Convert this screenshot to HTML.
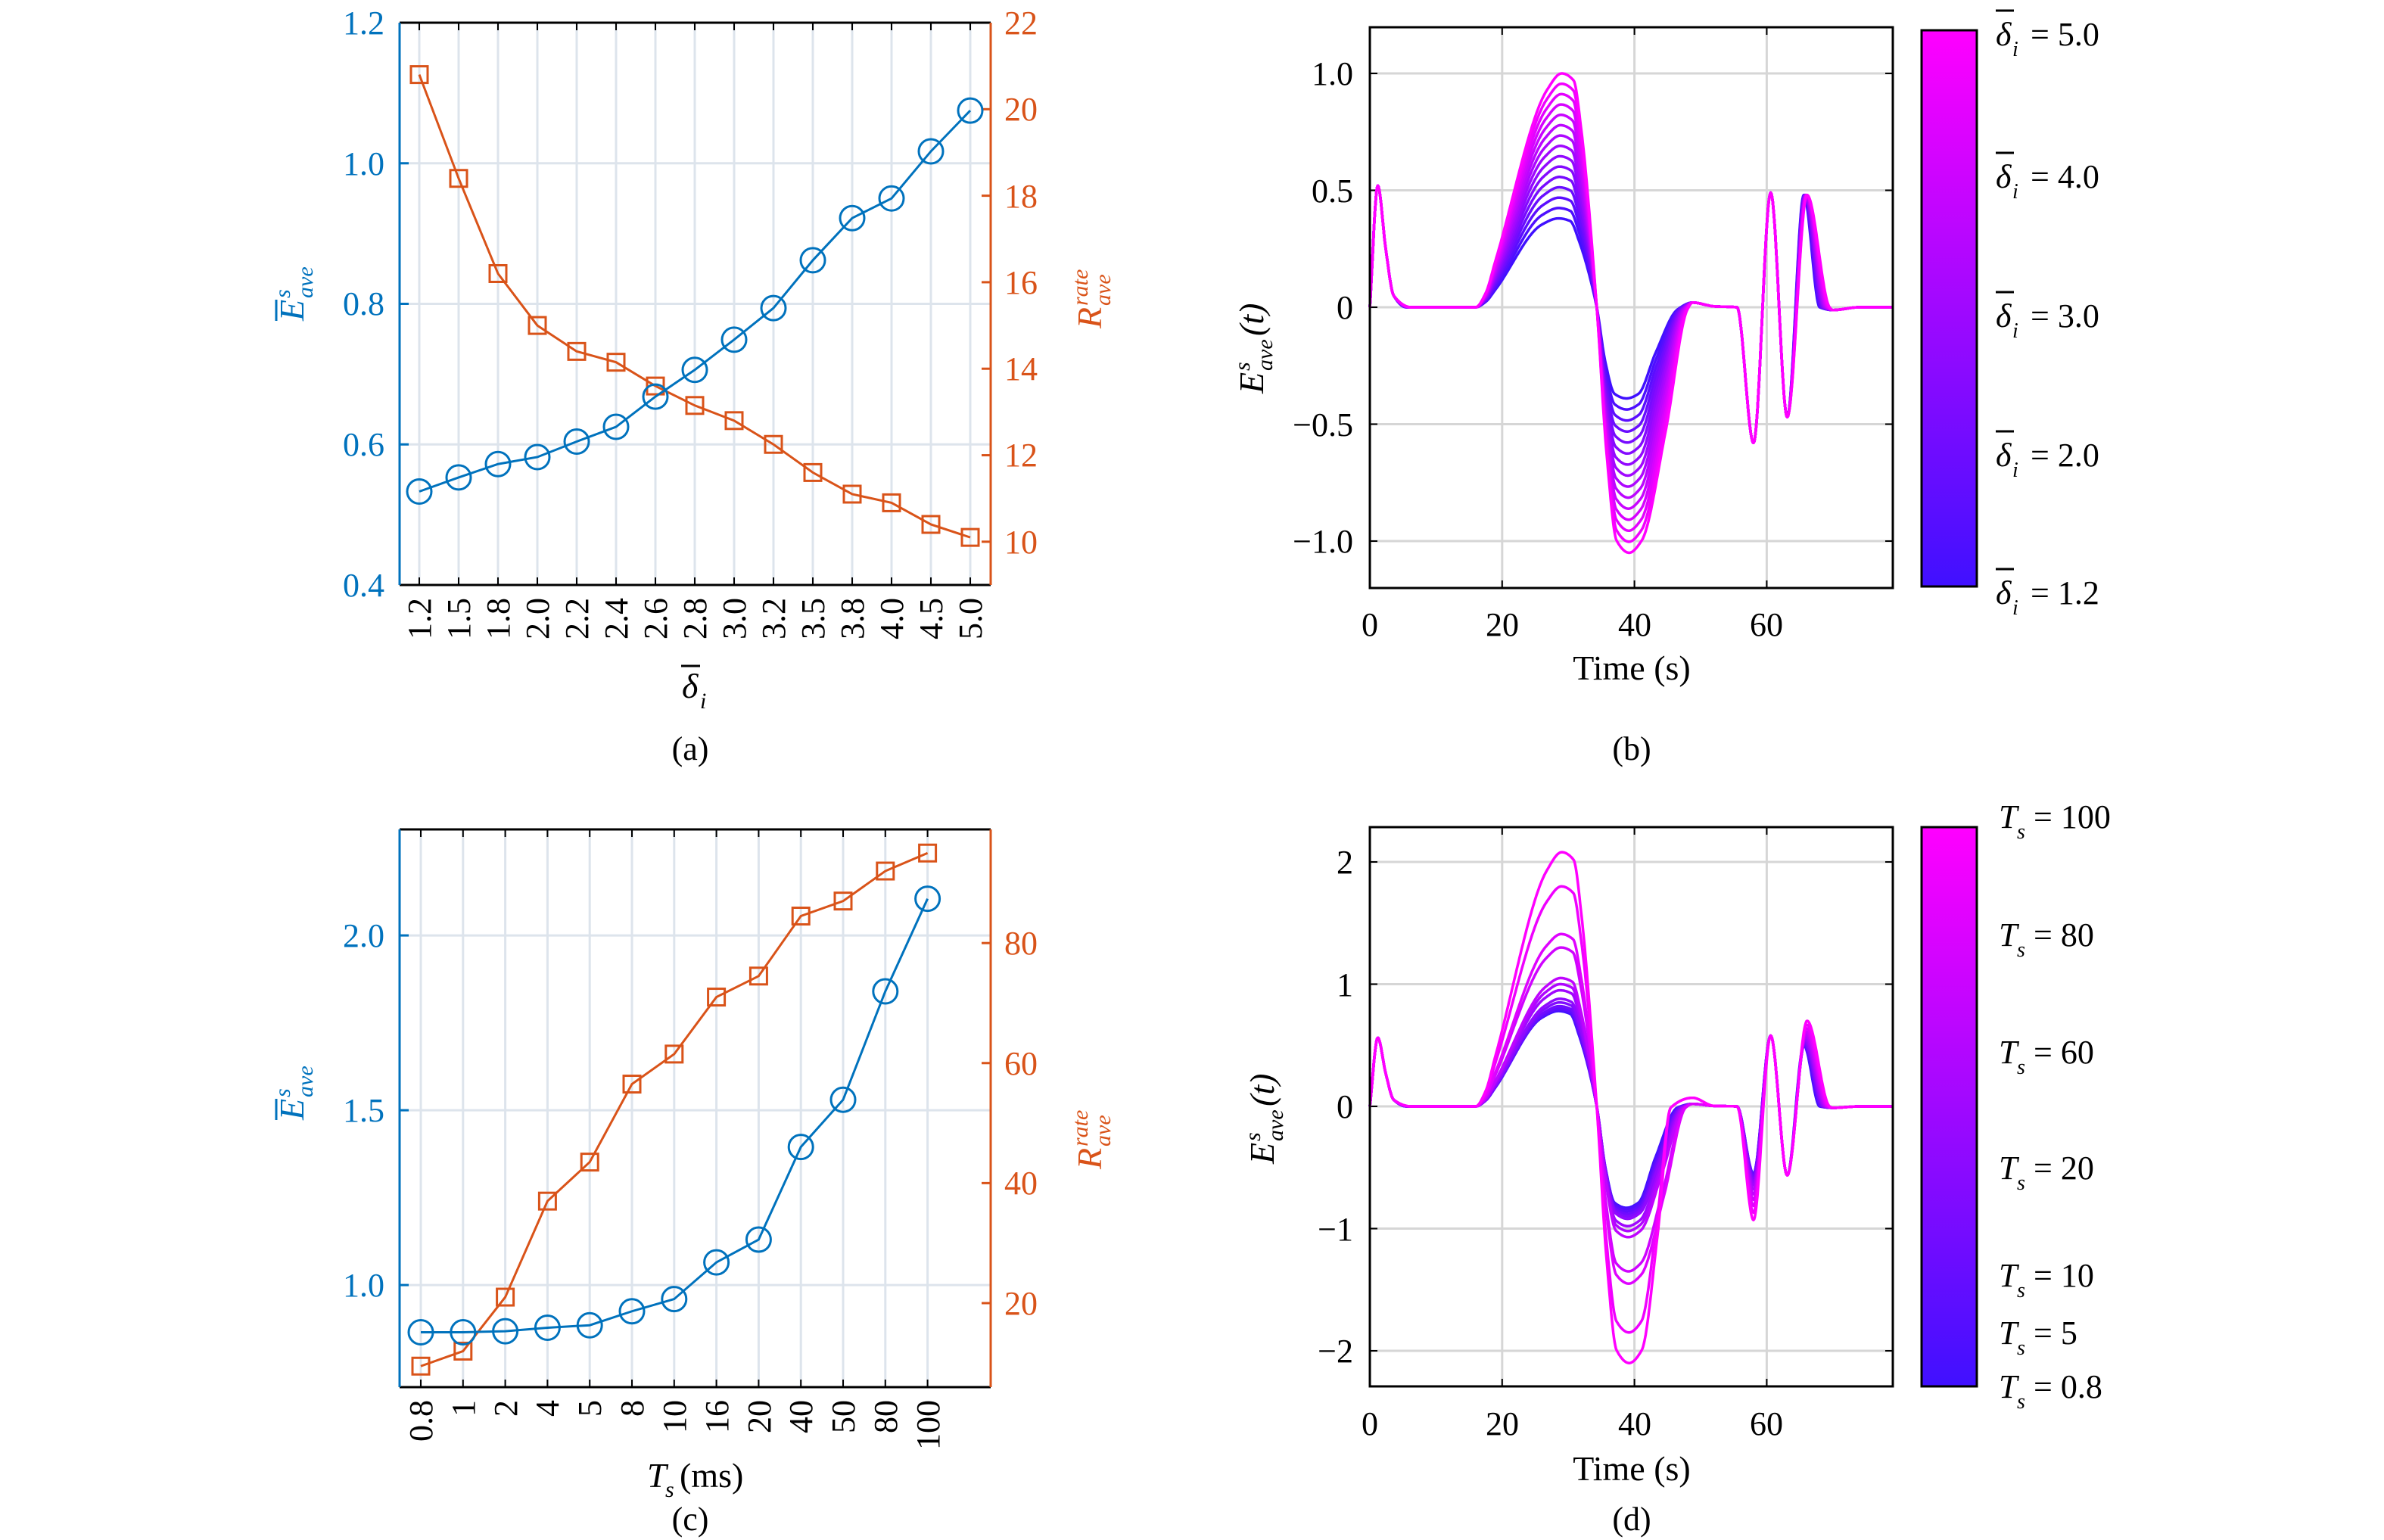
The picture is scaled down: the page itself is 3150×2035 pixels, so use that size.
<!DOCTYPE html>
<html><head><meta charset="utf-8"><style>
html,body{margin:0;padding:0;background:#fff}
svg{display:block}
text{font-family:"Liberation Serif","Times New Roman",serif}
</style></head><body>
<svg id="s" width="3150" height="2035" viewBox="0 0 3150 2035" xmlns="http://www.w3.org/2000/svg" font-family="Liberation Serif, serif">
<rect width="3150" height="2035" fill="#fff"/>
<defs>
<linearGradient id="cb" x1="0" y1="1" x2="0" y2="0">
<stop offset="0" stop-color="#4010ff"/><stop offset="1" stop-color="#ff00ff"/></linearGradient>
</defs>
<g transform="translate(-7,0)">
<g id="grid"></g>
<g id="curves"></g>

<!-- Panel a axes -->
<line x1="535" y1="30" x2="1316" y2="30" stroke="#000" stroke-width="3"/>
<line x1="535" y1="773" x2="1316" y2="773" stroke="#000" stroke-width="3"/>
<line x1="535" y1="30" x2="535" y2="773" stroke="#0072bd" stroke-width="3"/>
<line x1="1316" y1="30" x2="1316" y2="773" stroke="#d95319" stroke-width="3"/>
<g font-size="44" fill="#0072bd" text-anchor="end">
<text x="515" y="788">0.4</text><text x="515" y="602">0.6</text><text x="515" y="416">0.8</text><text x="515" y="231">1.0</text><text x="515" y="45">1.2</text></g>
<g font-size="44" fill="#d95319">
<text x="1334" y="731">10</text><text x="1334" y="616">12</text><text x="1334" y="502">14</text><text x="1334" y="388">16</text><text x="1334" y="274">18</text><text x="1334" y="159">20</text><text x="1334" y="45">22</text></g>
<g font-size="44" fill="#000" text-anchor="end">
<text transform="translate(576,790) rotate(-90)">1.2</text><text transform="translate(628,790) rotate(-90)">1.5</text><text transform="translate(680,790) rotate(-90)">1.8</text><text transform="translate(732,790) rotate(-90)">2.0</text><text transform="translate(784,790) rotate(-90)">2.2</text><text transform="translate(836,790) rotate(-90)">2.4</text><text transform="translate(888,790) rotate(-90)">2.6</text><text transform="translate(940,790) rotate(-90)">2.8</text><text transform="translate(992,790) rotate(-90)">3.0</text><text transform="translate(1044,790) rotate(-90)">3.2</text><text transform="translate(1096,790) rotate(-90)">3.5</text><text transform="translate(1148,790) rotate(-90)">3.8</text><text transform="translate(1200,790) rotate(-90)">4.0</text><text transform="translate(1252,790) rotate(-90)">4.5</text><text transform="translate(1304,790) rotate(-90)">5.0</text></g>
<text x="908" y="922" font-size="46" font-style="italic">δ</text><text x="932" y="936" font-size="30" font-style="italic">i</text>
<line x1="907" y1="880" x2="932" y2="880" stroke="#000" stroke-width="3"/>
<text x="919" y="1004" font-size="44" text-anchor="middle">(a)</text>
<g transform="translate(408,384) rotate(-90)" fill="#0072bd" font-style="italic">
<text x="-40" y="0" font-size="46">E</text><text x="-10" y="-18" font-size="30">s</text><text x="-10" y="12" font-size="30">ave</text>
<line x1="-40" y1="-36" x2="-12" y2="-36" stroke="#0072bd" stroke-width="3"/></g>
<g transform="translate(1462,384) rotate(-90)" fill="#d95319" font-style="italic">
<text x="-50" y="0" font-size="46">R</text><text x="-20" y="-18" font-size="30">rate</text><text x="-20" y="12" font-size="30">ave</text></g>

<!-- Panel c axes -->
<line x1="535" y1="1096" x2="1316" y2="1096" stroke="#000" stroke-width="3"/>
<line x1="535" y1="1833" x2="1316" y2="1833" stroke="#000" stroke-width="3"/>
<line x1="535" y1="1096" x2="535" y2="1833" stroke="#0072bd" stroke-width="3"/>
<line x1="1316" y1="1096" x2="1316" y2="1833" stroke="#d95319" stroke-width="3"/>
<g font-size="44" fill="#0072bd" text-anchor="end">
<text x="515" y="1713">1.0</text><text x="515" y="1482">1.5</text><text x="515" y="1251">2.0</text></g>
<g font-size="44" fill="#d95319">
<text x="1334" y="1737">20</text><text x="1334" y="1578">40</text><text x="1334" y="1420">60</text><text x="1334" y="1261">80</text></g>
<g font-size="44" fill="#000" text-anchor="end">
<text transform="translate(578,1850) rotate(-90)">0.8</text><text transform="translate(634,1850) rotate(-90)">1</text><text transform="translate(690,1850) rotate(-90)">2</text><text transform="translate(745,1850) rotate(-90)">4</text><text transform="translate(801,1850) rotate(-90)">5</text><text transform="translate(857,1850) rotate(-90)">8</text><text transform="translate(913,1850) rotate(-90)">10</text><text transform="translate(969,1850) rotate(-90)">16</text><text transform="translate(1025,1850) rotate(-90)">20</text><text transform="translate(1080,1850) rotate(-90)">40</text><text transform="translate(1136,1850) rotate(-90)">50</text><text transform="translate(1192,1850) rotate(-90)">80</text><text transform="translate(1248,1850) rotate(-90)">100</text></g>
<text x="862" y="1965" font-size="46" font-style="italic">T</text><text x="886" y="1978" font-size="30" font-style="italic">s</text><text x="905" y="1965" font-size="46">(ms)</text>
<text x="919" y="2022" font-size="44" text-anchor="middle">(c)</text>
<g transform="translate(408,1440) rotate(-90)" fill="#0072bd" font-style="italic">
<text x="-40" y="0" font-size="46">E</text><text x="-10" y="-18" font-size="30">s</text><text x="-10" y="12" font-size="30">ave</text>
<line x1="-40" y1="-36" x2="-12" y2="-36" stroke="#0072bd" stroke-width="3"/></g>
<g transform="translate(1462,1495) rotate(-90)" fill="#d95319" font-style="italic">
<text x="-50" y="0" font-size="46">R</text><text x="-20" y="-18" font-size="30">rate</text><text x="-20" y="12" font-size="30">ave</text></g>

<!-- Panel b axes -->
<rect x="1817" y="36" width="691" height="741" fill="none" stroke="#000" stroke-width="3"/>
<g font-size="44" fill="#000" text-anchor="end">
<text x="1795" y="112">1.0</text><text x="1795" y="267">0.5</text><text x="1795" y="421">0</text><text x="1795" y="576">−0.5</text><text x="1795" y="730">−1.0</text></g>
<g font-size="44" fill="#000" text-anchor="middle">
<text x="1817" y="840">0</text><text x="1992" y="840">20</text><text x="2167" y="840">40</text><text x="2341" y="840">60</text></g>
<text x="2163" y="898" font-size="46" text-anchor="middle">Time (s)</text>
<text x="2163" y="1004" font-size="44" text-anchor="middle">(b)</text>
<g transform="translate(1676,440) rotate(-90)" font-style="italic" fill="#000">
<text x="-80" y="0" font-size="46">E</text><text x="-50" y="-18" font-size="30">s</text><text x="-50" y="12" font-size="30">ave</text><text x="-4" y="0" font-size="46">(t)</text></g>
<rect x="2546" y="40" width="73" height="735" fill="url(#cb)" stroke="#000" stroke-width="3"/>
<g font-size="44" fill="#000">
<g><text x="2644" y="60" font-style="italic">δ</text><text x="2666" y="74" font-size="28" font-style="italic">i</text><text x="2690" y="60">= 5.0</text><line x1="2644" y1="14" x2="2668" y2="14" stroke="#000" stroke-width="3"/></g>
<g><text x="2644" y="248" font-style="italic">δ</text><text x="2666" y="262" font-size="28" font-style="italic">i</text><text x="2690" y="248">= 4.0</text><line x1="2644" y1="202" x2="2668" y2="202" stroke="#000" stroke-width="3"/></g>
<g><text x="2644" y="432" font-style="italic">δ</text><text x="2666" y="446" font-size="28" font-style="italic">i</text><text x="2690" y="432">= 3.0</text><line x1="2644" y1="386" x2="2668" y2="386" stroke="#000" stroke-width="3"/></g>
<g><text x="2644" y="616" font-style="italic">δ</text><text x="2666" y="630" font-size="28" font-style="italic">i</text><text x="2690" y="616">= 2.0</text><line x1="2644" y1="570" x2="2668" y2="570" stroke="#000" stroke-width="3"/></g>
<g><text x="2644" y="798" font-style="italic">δ</text><text x="2666" y="812" font-size="28" font-style="italic">i</text><text x="2690" y="798">= 1.2</text><line x1="2644" y1="752" x2="2668" y2="752" stroke="#000" stroke-width="3"/></g>
</g>

<!-- Panel d axes -->
<rect x="1817" y="1093" width="691" height="739" fill="none" stroke="#000" stroke-width="3"/>
<g font-size="44" fill="#000" text-anchor="end">
<text x="1795" y="1154">2</text><text x="1795" y="1316">1</text><text x="1795" y="1477">0</text><text x="1795" y="1639">−1</text><text x="1795" y="1800">−2</text></g>
<g font-size="44" fill="#000" text-anchor="middle">
<text x="1817" y="1896">0</text><text x="1992" y="1896">20</text><text x="2167" y="1896">40</text><text x="2341" y="1896">60</text></g>
<text x="2163" y="1956" font-size="46" text-anchor="middle">Time (s)</text>
<text x="2163" y="2022" font-size="44" text-anchor="middle">(d)</text>
<g transform="translate(1690,1458) rotate(-90)" font-style="italic" fill="#000">
<text x="-80" y="0" font-size="46">E</text><text x="-50" y="-18" font-size="30">s</text><text x="-50" y="12" font-size="30">ave</text><text x="-4" y="0" font-size="46">(t)</text></g>
<rect x="2546" y="1093" width="73" height="739" fill="url(#cb)" stroke="#000" stroke-width="3"/>
<g font-size="44" fill="#000">
<g><text x="2648" y="1094" font-style="italic">T</text><text x="2672" y="1108" font-size="28" font-style="italic">s</text><text x="2694" y="1094">= 100</text></g>
<g><text x="2648" y="1250" font-style="italic">T</text><text x="2672" y="1264" font-size="28" font-style="italic">s</text><text x="2694" y="1250">= 80</text></g>
<g><text x="2648" y="1405" font-style="italic">T</text><text x="2672" y="1419" font-size="28" font-style="italic">s</text><text x="2694" y="1405">= 60</text></g>
<g><text x="2648" y="1558" font-style="italic">T</text><text x="2672" y="1572" font-size="28" font-style="italic">s</text><text x="2694" y="1558">= 20</text></g>
<g><text x="2648" y="1700" font-style="italic">T</text><text x="2672" y="1714" font-size="28" font-style="italic">s</text><text x="2694" y="1700">= 10</text></g>
<g><text x="2648" y="1776" font-style="italic">T</text><text x="2672" y="1790" font-size="28" font-style="italic">s</text><text x="2694" y="1776">= 5</text></g>
<g><text x="2648" y="1847" font-style="italic">T</text><text x="2672" y="1861" font-size="28" font-style="italic">s</text><text x="2694" y="1847">= 0.8</text></g>
</g>
</g>
</svg>
<script>
var NS="http://www.w3.org/2000/svg";
var G=document.getElementById("grid"),C=document.getElementById("curves");
function el(p,tag,a){var e=document.createElementNS(NS,tag);for(var k in a)e.setAttribute(k,a[k]);p.appendChild(e);return e;}
function ln(p,x1,y1,x2,y2,c,w){el(p,"line",{x1:x1,y1:y1,x2:x2,y2:y2,stroke:c,"stroke-width":w});}
var ga="#dde4ec";
for(var i=0;i<15;i++){var x=561+52*i;ln(G,x,30,x,773,ga,3);ln(C,x,773,x,763,"#000",2);ln(C,x,30,x,40,"#000",2);}
[0.6,0.8,1.0].forEach(function(v){var y=773-(v-0.4)/0.8*743;ln(G,535,y,1316,y,ga,3);});
[0.4,0.6,0.8,1.0,1.2].forEach(function(v){var y=773-(v-0.4)/0.8*743;ln(C,535,y,547,y,"#0072bd",3);});
[10,12,14,16,18,20,22].forEach(function(v){var y=773-(v-9)/13*743;ln(C,1316,y,1304,y,"#d95319",3);});
var ab=[0.533,0.553,0.572,0.582,0.604,0.625,0.668,0.706,0.749,0.794,0.862,0.922,0.950,1.017,1.075];
var ao=[20.8,18.4,16.2,15.0,14.4,14.15,13.6,13.15,12.8,12.25,11.6,11.1,10.9,10.4,10.1];
function series(xs,ys,col,mk){var d="";for(var i=0;i<xs.length;i++)d+=(i?"L":"M")+xs[i]+","+ys[i];
el(C,"path",{d:d,fill:"none",stroke:col,"stroke-width":3});
for(var i=0;i<xs.length;i++){if(mk=="c")el(C,"circle",{cx:xs[i],cy:ys[i],r:16,fill:"none",stroke:col,"stroke-width":3});
else el(C,"rect",{x:xs[i]-11,y:ys[i]-11,width:22,height:22,fill:"none",stroke:col,"stroke-width":3});}}
var xa=ab.map(function(_,i){return 561+52*i;});
series(xa,ao.map(function(v){return 773-(v-9)/13*743;}),"#d95319","s");
series(xa,ab.map(function(v){return 773-(v-0.4)/0.8*743;}),"#0072bd","c");
for(var i=0;i<13;i++){var x=563+55.8*i;ln(G,x,1096,x,1833,ga,3);ln(C,x,1833,x,1823,"#000",2);ln(C,x,1096,x,1106,"#000",2);}
[1.0,1.5,2.0].forEach(function(v){var y=1833-(v-0.708)*462;ln(G,535,y,1316,y,ga,3);ln(C,535,y,547,y,"#0072bd",3);});
[20,40,60,80].forEach(function(v){var y=1833-(v-6)*7.93;ln(C,1316,y,1304,y,"#d95319",3);});
var cb=[0.865,0.865,0.868,0.878,0.885,0.925,0.96,1.065,1.13,1.395,1.53,1.84,2.105];
var co=[9.5,12,21,37,43.5,56.5,61.5,71,74.5,84.5,87,92,95];
var xc=cb.map(function(_,i){return 563+55.8*i;});
series(xc,co.map(function(v){return 1833-(v-6)*7.93;}),"#d95319","s");
series(xc,cb.map(function(v){return 1833-(v-0.708)*462;}),"#0072bd","c");
// monotone cubic interpolation
function mono(kp){var n=kp.length,xs=kp.map(function(p){return p[0]}),ys=kp.map(function(p){return p[1]});
 var d=[],m=[];for(var i=0;i<n-1;i++)d.push((ys[i+1]-ys[i])/(xs[i+1]-xs[i]));
 m[0]=d[0];m[n-1]=d[n-2];for(var i=1;i<n-1;i++){if(d[i-1]*d[i]<=0)m[i]=0;else{var w1=2*(xs[i+1]-xs[i])+(xs[i]-xs[i-1]),w2=(xs[i+1]-xs[i])+2*(xs[i]-xs[i-1]);m[i]=(w1+w2)/(w1/d[i-1]+w2/d[i]);}}
 return function(t){var i=0;while(i<n-2&&t>xs[i+1])i++;var h=xs[i+1]-xs[i],u=(t-xs[i])/h;if(u<0)u=0;if(u>1)u=1;
  var h00=2*u*u*u-3*u*u+1,h10=u*u*u-2*u*u+u,h01=-2*u*u*u+3*u*u,h11=u*u*u-u*u;
  return h00*ys[i]+h10*h*m[i]+h01*ys[i+1]+h11*h*m[i+1];};}
function tpanel(x0,top,bot,y0,sc,ticksY,n,Af,Bf,extra){
 var gg="#d6d6d6";
 [20,40,60].forEach(function(t){var x=x0+t*8.74;ln(G,x,top,x,bot,gg,3);ln(C,x,bot,x,bot-10,"#000",2);ln(C,x,top,x,top+10,"#000",2);});
 ticksY.forEach(function(v){var y=y0-v*sc;ln(G,x0,y,x0+691,y,gg,3);ln(C,x0,y,x0+10,y,"#000",2);ln(C,x0+691,y,x0+681,y,"#000",2);});
 for(var k=0;k<n;k++){var f=k/(n-1);var A=Af(k),B=Bf(k),e=extra(k,f);
  var kp=[[0,0],[1.2,0.52*e.s],[2.4,0.25*e.s],[3.6,0.05*e.s],[5.5+f*0.8,0],[16,0],[17.5,0.06*A],[19,0.2*A],[26+0.8*f,0.93*A],[28.5+0.5*f,A],[30.3+0.5*f,0.97*A],[31.6+0.4*f,0.75*A],[34.3,0],[35.6+0.2*f,-0.6*B],[37+0.3*f,-0.95*B],[38.8+0.4*f,-B],[40.6+0.5*f,-0.95*B],[43.2+0.8*f+e.r*0.5,-0.5*B],[46.5+e.r,-0.01],[48.8,e.o],[52,0.004],[55.5,0],[58,e.d],[60.6,0.49*e.s2],[63.1,-0.47*e.s3],[65.6+0.5*f,e.p],[68+1.5*f,0],[70,-0.012],[74,0],[79,0]];
  var F=mono(kp);
  var d="";for(var t=0;t<=79.01;t+=0.1){var x=x0+t*8.74,y=y0-F(t)*sc;d+=(t?"L":"M")+x.toFixed(1)+","+y.toFixed(1);}
  var col="rgb("+Math.round(64+191*f)+","+Math.round(16*(1-f))+",255)";
  el(C,"path",{d:d,fill:"none",stroke:col,"stroke-width":3.5,"stroke-linejoin":"round"});}
}
tpanel(1817,36,777,406,309,[1,0.5,0,-0.5,-1],15,function(k){return 0.38+0.62*k/14;},function(k){return 0.39+0.66*k/14;},function(k,f){return {s:1,r:1.5*f,o:0.02,d:-0.58,s2:1,s3:1,p:0.48};});
var dA=[0.78,0.79,0.80,0.82,0.85,0.88,0.95,1.0,1.05,1.30,1.41,1.80,2.08];
var dB=[0.83,0.84,0.86,0.88,0.90,0.92,0.98,1.02,1.07,1.35,1.45,1.85,2.1];
tpanel(1817,1093,1832,1462,161.5,[2,1,0,-1,-2],13,function(k){return dA[k];},function(k){return dB[k];},function(k,f){return {s:1.08,r:(k>=11?-1:1.5*f),o:(k>=11?0.07:0.02),d:-0.55-0.38*Math.pow(f,2),s2:1.18,s3:1.2,p:0.5+0.2*Math.pow(f,2)};});
[5,4,3,2,1.2].forEach(function(v){var y=775-(v-1.2)/3.8*735;ln(C,2619,y,2607,y,"#000",3);});
[1238,1394,1547,1689,1765].forEach(function(y){ln(C,2619,y,2607,y,"#000",3);});
</script>
</body></html>
